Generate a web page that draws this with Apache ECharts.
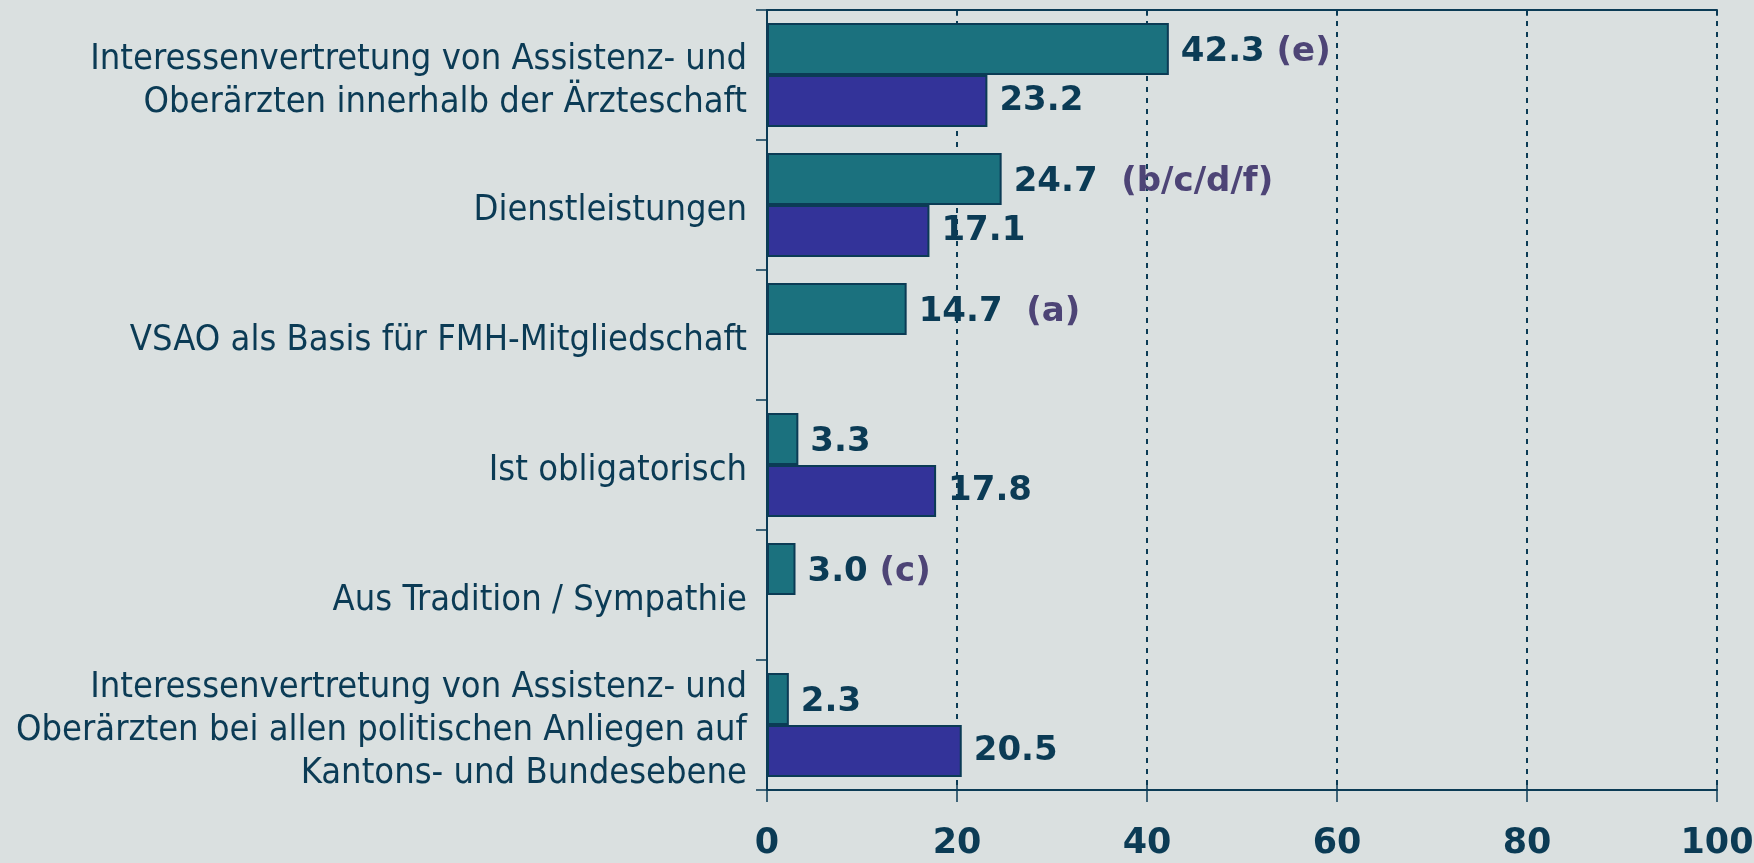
<!DOCTYPE html>
<html>
<head>
<meta charset="utf-8">
<style>
  html, body { margin: 0; padding: 0; background: #dae0e0; }
  #chart { width: 1754px; height: 863px; }
</style>
<script src="https://cdn.jsdelivr.net/npm/echarts@6/dist/echarts.min.js"></script>
</head>
<body>
<div id="chart"></div>
<script>
// Kategorien von oben nach unten
const categories = [
  'Interessenvertretung von Assistenz- und\nOberärzten innerhalb der Ärzteschaft',
  'Dienstleistungen',
  'VSAO als Basis für FMH-Mitgliedschaft',
  'Ist obligatorisch',
  'Aus Tradition / Sympathie',
  'Interessenvertretung von Assistenz- und\nOberärzten bei allen politischen Anliegen auf\nKantons- und Bundesebene'
]
const tealValues = [42.3, 24.7, 14.7, 3.3, 3.0, 2.3]
const purpleValues = [23.2, 17.1, null, 17.8, null, 20.5]
const tealNotes = ['(e)', '(b/c/d/f)', '(a)', '', '(c)', '']
const noteGaps = [' ', '  ', '  ', '', ' ', '']
const xMin = 0
const xMax = 100
const xStep = 20

const textColor = '#0b3b55'
const noteColor = '#4d4476'

const myChart = echarts.init(document.getElementById('chart'))

const valueLabel = {
  show: true,
  position: 'right',
  distance: 12,
  padding: [6, 0, 0, 0],
  color: textColor,
  fontFamily: 'DejaVu Sans',
  fontWeight: 'bold',
  fontSize: 34
}

myChart.setOption({
  backgroundColor: '#dae0e0',
  animation: false,
  grid: {
    left: 767,
    right: 37,
    top: 10,
    bottom: 73,
    containLabel: false,
    outerBoundsMode: 'none'
  },
  xAxis: [
    {
      type: 'value',
      position: 'bottom',
      min: xMin,
      max: xMax,
      interval: xStep,
      axisLine: { show: true, lineStyle: { color: textColor, width: 2 } },
      axisTick: { show: true, length: 12, lineStyle: { color: textColor, width: 1.5 } },
      axisLabel: {
        margin: 36,
        color: textColor,
        fontFamily: 'DejaVu Sans',
        fontWeight: 'bold',
        fontSize: 35
      },
      splitLine: {
        show: true,
        lineStyle: { color: textColor, width: 2, type: [5, 6] }
      }
    },
    {
      // oberer Rahmen
      type: 'value',
      position: 'top',
      min: xMin,
      max: xMax,
      interval: xStep,
      axisLine: { show: true, onZero: false, lineStyle: { color: textColor, width: 2 } },
      axisTick: { show: true, inside: true, length: 6, lineStyle: { color: textColor, width: 1.5 } },
      axisLabel: { show: false },
      splitLine: { show: false }
    },
    {
      // kurze Striche nach innen an der unteren Achse
      type: 'value',
      position: 'bottom',
      offset: 0,
      min: xMin,
      max: xMax,
      interval: xStep,
      axisLine: { show: false },
      axisTick: { show: true, inside: true, length: 6, lineStyle: { color: textColor, width: 1.5 } },
      axisLabel: { show: false },
      splitLine: { show: false }
    }
  ],
  yAxis: {
    type: 'category',
    inverse: true,
    data: categories,
    axisLine: { show: true, lineStyle: { color: textColor, width: 2 } },
    axisTick: { show: true, length: 11, lineStyle: { color: textColor, width: 1.5 } },
    axisLabel: {
      margin: 20,
      align: 'right',
      // Text leicht nach unten versetzt
      formatter: function (value) {
        return value.split('\n').map(function (line) {
          return '{a|' + line + '}'
        }).join('\n')
      },
      rich: {
        a: {
          color: textColor,
          fontFamily: 'DejaVu Sans Condensed, DejaVu Sans',
          fontSize: 36,
          lineHeight: 43,
          padding: [12, 0, 0, 0]
        }
      }
    }
  },
  series: [
    {
      name: 'teal',
      type: 'bar',
      xAxisIndex: 0,
      data: tealValues,
      barGap: '0%',
      barCategoryGap: '20%',
      itemStyle: { color: '#1b717e', borderColor: textColor, borderWidth: 2 },
      label: Object.assign({}, valueLabel, {
        formatter: function (p) {
          const note = tealNotes[p.dataIndex]
          let s = '{v|' + p.value.toFixed(1) + '}'
          if (note) {
            s += '{n|' + noteGaps[p.dataIndex] + note + '}'
          }
          return s
        },
        rich: {
          v: { color: textColor, fontFamily: 'DejaVu Sans', fontWeight: 'bold', fontSize: 34 },
          n: { color: noteColor, fontFamily: 'DejaVu Sans', fontWeight: 'bold', fontSize: 34 }
        }
      })
    },
    {
      name: 'purple',
      type: 'bar',
      xAxisIndex: 0,
      data: purpleValues,
      barGap: '0%',
      barCategoryGap: '20%',
      itemStyle: { color: '#333399', borderColor: textColor, borderWidth: 2 },
      label: Object.assign({}, valueLabel, {
        formatter: function (p) {
          return p.value == null ? '' : p.value.toFixed(1)
        }
      })
    }
  ]
})
</script>
</body>
</html>
